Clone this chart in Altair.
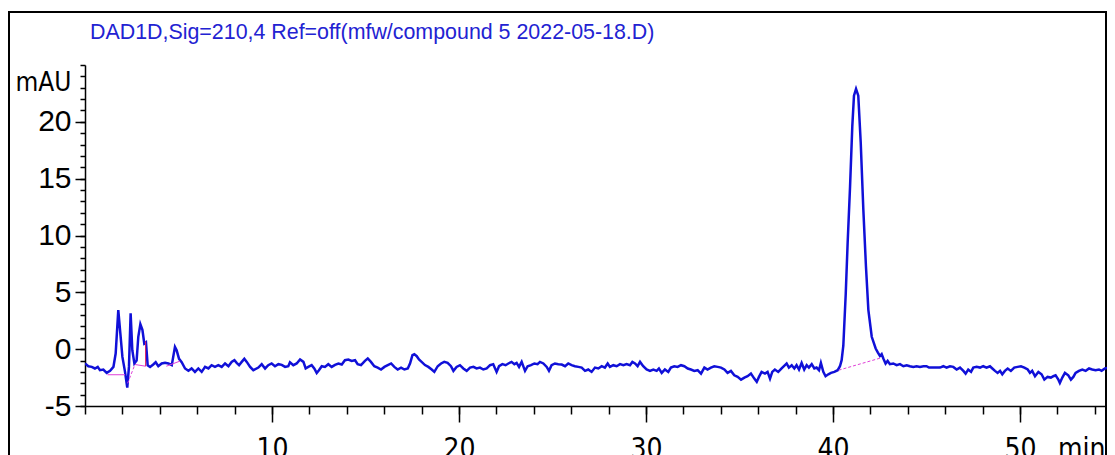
import altair as alt
import pandas as pd

TITLE = "DAD1D,Sig=210,4 Ref=off(mfw/compound 5 2022-05-18.D)"

# Retention time (min) and absorbance (mAU)
time_min = [
    0.00, 0.18, 0.36, 0.53, 0.68, 0.80, 0.98, 1.16, 1.34, 1.52, 1.64, 1.78, 1.89, 2.00, 2.14, 2.26,
    2.35, 2.44, 2.53, 2.64, 2.76, 2.85, 2.96, 3.07, 3.17, 3.26, 3.35, 3.48, 3.65, 3.78, 3.92, 4.10,
    4.28, 4.46, 4.64, 4.81, 4.90, 5.03, 5.17, 5.35, 5.53, 5.70, 5.88, 6.06, 6.24, 6.42, 6.60, 6.77,
    6.95, 7.13, 7.31, 7.49, 7.67, 7.84, 7.99, 8.11, 8.24, 8.38, 8.52, 8.65, 8.83, 9.00,
    9.27, 9.45, 9.63, 9.80, 9.98, 10.16, 10.34, 10.52, 10.70, 10.87, 10.96, 11.14, 11.32, 11.50,
    11.68, 11.80, 11.94, 12.12, 12.26, 12.39, 12.51, 12.66, 12.83, 13.01, 13.19, 13.37, 13.55,
    13.73, 13.90, 14.08, 14.26, 14.44, 14.58, 14.76, 14.97, 15.12, 15.29, 15.47, 15.65, 15.83,
    16.01, 16.19, 16.37, 16.54, 16.72, 16.90, 17.08, 17.26, 17.38, 17.51, 17.61, 17.74, 17.86, 18.00,
    18.18, 18.36, 18.54, 18.68, 18.86, 19.04, 19.21, 19.39, 19.57, 19.70, 19.87, 20.05, 20.23,
    20.41, 20.59, 20.77, 20.94, 21.12, 21.30, 21.48, 21.66, 21.83, 22.01, 22.14, 22.32, 22.49,
    22.64, 22.81, 22.96, 23.08, 23.21, 23.35, 23.53, 23.67, 23.85, 24.03, 24.20, 24.33, 24.51,
    24.69, 24.81, 24.95, 25.13, 25.31, 25.49, 25.67, 25.84, 26.02, 26.20, 26.38, 26.56, 26.74,
    26.91, 27.09,
    27.27, 27.45, 27.63, 27.80, 27.95, 28.07, 28.25, 28.43, 28.61, 28.79, 28.96, 29.14, 29.27,
    29.41, 29.55, 29.68, 29.85, 30.03, 30.21, 30.39, 30.57, 30.69, 30.84, 31.01, 31.19, 31.33,
    31.51, 31.69, 31.87, 32.05, 32.23, 32.40, 32.58, 32.76, 32.94, 33.12, 33.29, 33.47, 33.65,
    33.83, 34.01, 34.19, 34.36, 34.54, 34.72, 34.90, 35.08, 35.26, 35.43, 35.61, 35.79, 35.92,
    36.04, 36.18,
    36.36, 36.50, 36.63, 36.75, 36.89, 37.07, 37.25, 37.43, 37.52, 37.64, 37.79, 37.93, 38.05,
    38.18, 38.32, 38.46, 38.59, 38.71, 38.86, 39.00, 39.12, 39.25, 39.35, 39.48, 39.60, 39.75,
    39.89, 40.07, 40.25, 40.37, 40.46, 40.55, 40.68, 40.78, 40.91, 41.03, 41.12, 41.23, 41.35,
    41.48, 41.62, 41.76, 41.89, 42.07, 42.28, 42.40, 42.51, 42.60, 42.69, 42.81, 42.92, 43.04,
    43.22, 43.40, 43.58, 43.76, 43.94, 44.11, 44.29, 44.47, 44.65, 44.83, 45.00, 45.13, 45.36,
    45.72, 45.90, 46.07, 46.25, 46.43, 46.61, 46.79, 46.97, 47.09, 47.23, 47.38, 47.50, 47.68,
    47.86, 48.03, 48.21, 48.39, 48.52, 48.66, 48.80, 48.93, 49.05, 49.19, 49.34, 49.51, 49.69,
    49.87, 50.05, 50.23, 50.41, 50.53, 50.65, 50.80, 50.98, 51.15, 51.30, 51.47, 51.65, 51.78,
    51.90, 52.05, 52.13, 52.26, 52.40, 52.58, 52.72, 52.85, 52.97, 53.15, 53.33, 53.51, 53.69,
    53.86, 54.04, 54.22, 54.36, 54.54, 54.72, 54.90, 55.00,
]
signal_mau = [
    -1.26, -1.50, -1.56, -1.70, -1.56, -1.85, -1.80, -2.09, -1.90, -1.56, -0.38, 3.44, 1.38, -0.68, -2.00, -3.38,
    -1.56, 3.15, -0.09, -1.26, -1.00, 1.09, 2.20, 1.70, 0.50, 0.60, -1.41, -1.56, -1.35, -1.15, -1.50, -1.26,
    -1.20, -1.26, -1.41, 0.20, -0.10, -0.85, -1.15, -1.70, -1.90, -1.70, -2.00, -1.70, -2.00, -1.56, -1.70, -1.41,
    -1.56, -1.41, -1.56, -1.26, -1.50, -1.12, -0.97, -1.20, -1.41, -1.12, -0.85, -1.12, -1.56, -1.85,
    -1.62, -1.32, -1.70, -1.41, -1.26, -1.50, -1.32, -1.38, -1.56, -1.50, -1.15, -1.41, -1.26, -0.91,
    -1.12, -1.70, -1.56, -1.41, -1.70, -2.09, -1.85, -1.50, -1.56, -1.32, -1.56, -1.38, -1.26,
    -1.35, -0.97, -0.91, -1.03, -0.97, -1.32, -1.41, -1.03, -0.82, -1.12, -1.50, -1.62, -1.79,
    -1.56, -1.41, -1.26, -1.56, -1.79, -1.62, -1.79, -1.70, -1.26, -0.53, -0.44, -0.62, -0.91, -1.12,
    -1.40, -1.56, -1.79, -2.00, -1.50, -1.26, -1.12, -1.21, -1.50, -1.91, -1.56, -1.41, -1.70,
    -1.91, -1.62, -1.56, -1.70, -1.62, -1.79, -1.70, -1.41, -1.32, -2.00, -1.50, -1.32, -1.41,
    -1.26, -1.12, -1.32, -1.21, -1.56, -1.12, -1.91, -1.50, -1.41, -1.26, -1.32, -1.12, -1.26,
    -1.56, -1.91, -1.41, -1.26, -1.32, -1.35, -1.50, -1.26, -1.41, -1.50, -1.56, -1.62, -1.91,
    -1.79, -2.00,
    -1.62, -1.70, -1.50, -1.62, -1.26, -1.56, -1.41, -1.50, -1.32, -1.41, -1.32, -1.41, -1.12,
    -1.26, -1.50, -1.12, -1.50, -1.79, -1.91, -1.79, -1.91, -1.70, -2.09, -1.79, -2.00, -1.62,
    -1.50, -1.56, -1.41, -1.50, -1.70, -1.79, -1.91, -1.85, -2.15, -1.62, -1.79, -1.62, -1.50,
    -1.56, -1.62, -1.79, -2.09, -1.91, -2.30, -2.44, -2.68, -2.50, -2.38, -2.15, -2.59, -2.88,
    -2.44, -2.00,
    -2.15, -2.00, -2.59, -2.00, -1.79, -2.00, -1.70, -1.41, -1.26, -1.62, -1.41, -1.70, -1.41,
    -1.79, -1.21, -1.79, -1.41, -1.62, -1.32, -1.70, -1.62, -1.85, -1.21, -2.00, -2.38, -2.21,
    -2.09, -2.00, -1.85, -1.50, -0.97, 0.30, 4.90, 9.30, 14.30, 19.60, 22.30, 22.90, 22.30,
    18.20, 12.30, 7.30, 3.44, 1.09, 0.06, -0.30, -0.60, -0.44, -0.82, -1.26, -1.03, -1.32,
    -1.26, -1.41, -1.32, -1.50, -1.41, -1.50, -1.56, -1.50, -1.56, -1.50, -1.50, -1.62, -1.62,
    -1.62, -1.50, -1.62, -1.50, -1.56, -1.79, -1.62, -1.91, -2.15, -1.79, -2.00, -1.62, -1.56,
    -1.62, -1.50, -1.62, -1.50, -1.70, -1.91, -2.09, -1.91, -2.21, -1.91, -1.70, -1.91, -1.62,
    -1.56, -1.50, -1.62, -1.79, -2.09, -1.91, -2.38, -2.00, -2.21, -2.68, -2.44, -2.50, -2.38,
    -2.30, -2.68, -2.97, -2.50, -2.09, -2.30, -2.68, -2.44, -2.09, -1.91, -1.79, -1.91, -1.70,
    -1.79, -1.85, -1.79, -1.91, -1.70, -1.62, -1.62, -1.62,
]

# Integration baselines
solid_seg = ["a", "a", "c", "c", "d", "d"]
solid_t = [1.20, 2.14, 2.67, 3.24, 4.35, 5.08]
solid_v = [-2.25, -2.25, -1.35, -1.50, -1.50, -1.05]

dash_seg = ["b", "b", "e", "e"]
dash_t = [2.28, 2.67, 40.30, 42.60]
dash_v = [-3.00, -1.35, -1.85, -0.75]

drop_t = [3.24, 3.24]
drop_v = [-1.50, 0.70]

x_major = [10, 20, 30, 40, 50]
x_minor = list(range(0, 55, 2))
y_major = [-5, 0, 5, 10, 15, 20]
y_minor = list(range(-5, 26))

trace = pd.DataFrame({"t": time_min, "v": signal_mau})
solid_df = pd.DataFrame({"seg": solid_seg, "t": solid_t, "v": solid_v})
dash_df = pd.DataFrame({"seg": dash_seg, "t": dash_t, "v": dash_v})
drop_df = pd.DataFrame({"t": drop_t, "v": drop_v})
title_df = pd.DataFrame({"label": [TITLE]})

W, H = 1022, 341
xs = alt.Scale(domain=[0, 54.65], nice=False, zero=False)
ys = alt.Scale(domain=[-5, 25], nice=False, zero=False)

NARROW = "Liberation Sans Narrow, Arial Narrow, DejaVu Sans Condensed, Liberation Sans"
REG = "Liberation Sans, Arial, sans-serif"

line = alt.Chart(trace).mark_line(color="#1010d8", strokeWidth=2.5, clip=True).encode(
    x=alt.X("t:Q", scale=xs, axis=alt.Axis(
        values=x_major, tickSize=16, tickWidth=1.5, domainWidth=1.5, domainColor="black",
        tickColor="black", labelFont=NARROW, labelFontSize=28, labelColor="black",
        labelPadding=13, labelFlush=False, grid=False, orient="bottom",
        title="min", titleFont=NARROW, titleFontSize=28, titleFontWeight="normal",
        titleColor="black", titleX=W - 2, titleY=29, titleAlign="right", titleBaseline="top")),
    y=alt.Y("v:Q", scale=ys, axis=alt.Axis(
        values=y_major, tickSize=10, tickWidth=1.5, domainWidth=1.5, domainColor="black",
        tickColor="black", labelFont=REG, labelFontSize=30, labelColor="black",
        labelExpr="'' + datum.value",
        labelPadding=4, grid=False, orient="left",
        title="mAU", titleFont=NARROW, titleFontSize=26, titleFontWeight="normal",
        titleColor="black", titleAngle=0, titleX=-14, titleY=17, titleAlign="right",
        titleBaseline="middle")),
)

solid = alt.Chart(solid_df).mark_line(color="#e040d8", strokeWidth=1).encode(
    x=alt.X("t:Q", scale=xs, axis=alt.Axis(
        values=x_minor, tickSize=8, tickWidth=1.5, tickColor="black", labels=False,
        domain=False, grid=False, title=None, orient="bottom")),
    y=alt.Y("v:Q", scale=ys, axis=alt.Axis(
        values=y_minor, tickSize=5, tickWidth=1.5, tickColor="black", labels=False,
        domain=False, grid=False, title=None, orient="left")),
    detail="seg:N",
)

dashed = alt.Chart(dash_df).mark_line(color="#e040d8", strokeWidth=1, strokeDash=[3, 2]).encode(
    x=alt.X("t:Q", scale=xs, axis=None),
    y=alt.Y("v:Q", scale=ys, axis=None),
    detail="seg:N",
)

drop = alt.Chart(drop_df).mark_line(color="#e02060", strokeWidth=1).encode(
    x=alt.X("t:Q", scale=xs, axis=None),
    y=alt.Y("v:Q", scale=ys, axis=None),
)

title = alt.Chart(title_df).mark_text(
    align="left", baseline="middle", font=REG, fontSize=21.4, color="#2222d2"
).encode(text="label:N", x=alt.value(5), y=alt.value(-32))

frame = alt.Chart(title_df).mark_rect(filled=False, stroke="black", strokeWidth=2).encode(
    x=alt.value(-76), x2=alt.value(W - 1), y=alt.value(-53), y2=alt.value(H + 80)
)

chart = alt.layer(frame, line, solid, dashed, drop, title).resolve_axis(
    x="independent", y="independent"
).properties(
    width=W, height=H,
    autosize=alt.AutoSizeParams(type="none"),
    padding={"left": 77, "top": 57, "right": 0, "bottom": 60},
).configure_view(stroke=None)

chart.save("out.html", embed_options={"renderer": "svg", "actions": False})
